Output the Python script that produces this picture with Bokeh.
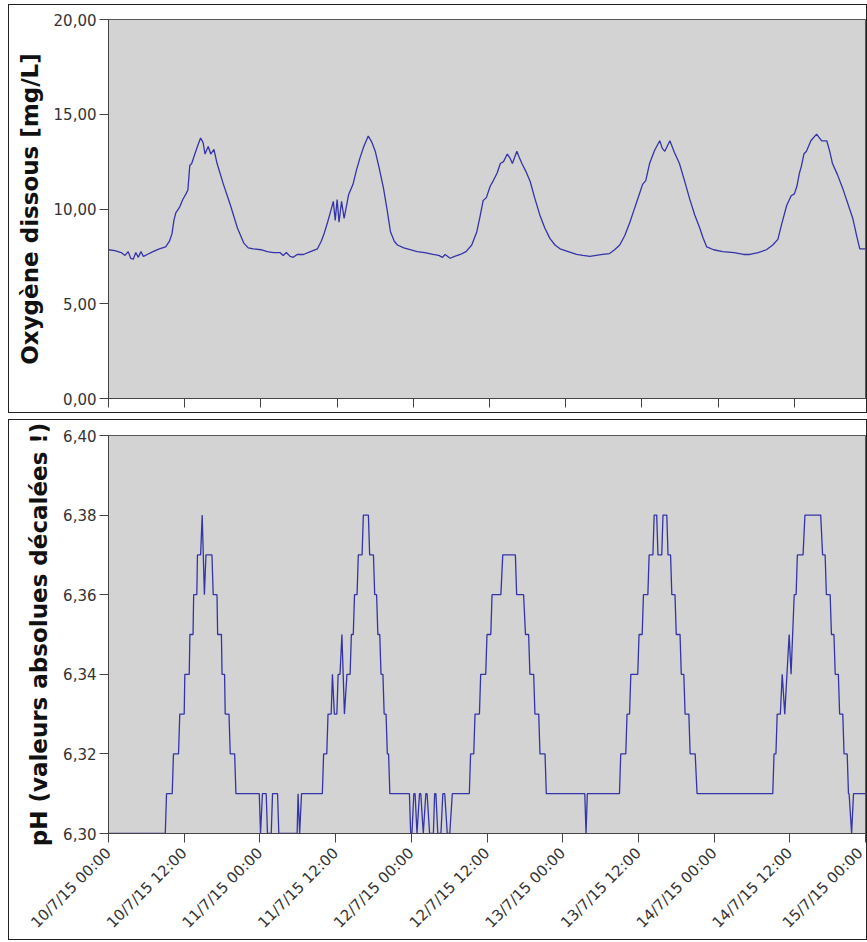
from math import pi
from bokeh.plotting import figure
from bokeh.layouts import column
from bokeh.models import FixedTicker, CustomJSTickFormatter, Range1d
from bokeh.embed import file_html
from bokeh.resources import INLINE

# ---- x axis (hours since 10/7/15 00:00) ----
tick_hours = [0, 12, 24, 36, 48, 60, 72, 84, 96, 108, 120]
tick_labels = ["10/7/15 00:00", "10/7/15 12:00", "11/7/15 00:00", "11/7/15 12:00",
               "12/7/15 00:00", "12/7/15 12:00", "13/7/15 00:00", "13/7/15 12:00",
               "14/7/15 00:00", "14/7/15 12:00", "15/7/15 00:00"]

# ---- dissolved oxygen [mg/L] ----
o2_hours = [0, 1.0, 2.0, 2.6, 3.1, 3.5, 3.9, 4.3, 4.7, 5.1, 5.5, 6.1, 7.0, 8.0, 9.0, 9.6, 10.0,
            10.3, 10.6, 11.2, 11.7, 12.2, 12.5, 12.8, 13.1, 13.6, 14.0, 14.5, 14.9, 15.2, 15.7,
            16.1, 16.6, 17.1, 18.1, 19.2, 20.3, 21.3, 22.0, 22.8, 24.0, 25.0, 26.0, 27.0, 27.5,
            28.0, 28.6, 29.1, 29.7, 30.7, 31.8, 32.9, 33.5, 33.9, 34.5, 35.0, 35.4, 35.7, 36.0,
            36.3, 36.7, 37.1, 37.5, 37.8, 38.5, 39.0, 39.6, 40.2, 40.9, 41.5, 42.0, 42.6, 43.3,
            43.9, 44.4, 45.0, 45.5, 46.5, 47.5, 48.6, 49.8, 51.1, 52.0, 52.6, 53.0, 53.8, 54.5,
            55.4, 56.3, 57.2, 58.0, 58.5, 59.0, 59.5, 60.1, 60.6, 61.2, 61.7, 62.2, 62.8, 63.2,
            63.6, 64.3, 64.7, 65.1, 65.7, 66.4, 67.1, 67.9, 68.7, 69.5, 70.3, 71.1, 72.4, 73.7,
            74.7, 75.8, 76.8, 77.8, 78.9, 79.7, 80.5, 81.3, 82.1, 82.7, 83.2, 83.7, 84.1, 84.6,
            85.2, 86.0, 86.8, 87.2, 87.6, 88.4, 89.1, 89.9, 90.7, 91.5, 92.3, 93.1, 93.6, 94.2,
            95.3, 96.7, 98.5, 100.0, 101.0, 102.3, 103.6, 104.6, 105.4, 106.0, 106.8, 107.5,
            108.0, 108.4, 108.8, 109.1, 109.5, 109.9, 110.6, 111.5, 112.3, 113.1, 113.6, 114.0,
            114.8, 115.6, 116.4, 117.2, 117.8, 118.3, 119.4, 120.0]
o2_values = [7.85, 7.8, 7.7, 7.55, 7.75, 7.4, 7.35, 7.7, 7.45, 7.75, 7.5, 7.6, 7.75, 7.9, 8.0, 8.3,
             8.7, 9.4, 9.8, 10.1, 10.5, 10.8, 11.0, 12.3, 12.4, 12.9, 13.3, 13.75, 13.5, 12.9,
             13.3, 12.9, 13.15, 12.4, 11.3, 10.2, 9.0, 8.2, 7.95, 7.9, 7.85, 7.75, 7.7, 7.7, 7.55,
             7.7, 7.5, 7.45, 7.6, 7.6, 7.75, 7.9, 8.3, 8.65, 9.3, 9.9, 10.4, 9.4, 10.5, 9.3, 10.4,
             9.5, 10.2, 10.75, 11.3, 12.0, 12.7, 13.3, 13.85, 13.5, 13.05, 12.2, 11.1, 9.9, 8.8,
             8.3, 8.1, 7.95, 7.85, 7.75, 7.7, 7.6, 7.55, 7.45, 7.6, 7.4, 7.5, 7.6, 7.75, 8.1, 8.8,
             9.6, 10.45, 10.6, 11.2, 11.5, 11.9, 12.4, 12.5, 12.9, 12.7, 12.4, 13.05, 12.7, 12.4,
             12.0, 11.45, 10.6, 9.7, 9.0, 8.45, 8.1, 7.9, 7.75, 7.6, 7.55, 7.5, 7.55, 7.6, 7.65,
             7.85, 8.1, 8.6, 9.3, 9.9, 10.4, 10.9, 11.3, 11.5, 12.4, 13.1, 13.6, 13.2, 13.05, 13.6,
             13.0, 12.4, 11.5, 10.55, 9.7, 9.0, 8.5, 8.0, 7.85, 7.75, 7.7, 7.6, 7.6, 7.7, 7.85, 8.1,
             8.4, 9.2, 10.2, 10.7, 10.8, 11.2, 11.9, 12.25, 12.9, 13.05, 13.6, 13.95, 13.6, 13.6,
             13.0, 12.4, 11.8, 11.1, 10.3, 9.5, 8.6, 7.9, 7.9, 7.9]

# ---- pH (levels held between start and end hour) ----
ph_start = [0, 9.2, 10.3, 11.3, 12.1, 12.9, 13.5, 14.1, 14.85, 15.2, 15.45, 16.6, 17.3, 18.0, 18.5,
            19.3, 20.2, 24.1, 24.4, 25.2, 26.0, 27.0, 30.05, 30.3, 30.6,
            34.1, 34.8, 35.5, 35.8, 36.4, 37.0, 37.4, 37.8, 38.5, 39.0, 39.6, 40.4, 41.4, 42.2,
            42.7, 43.2, 43.7, 44.2, 44.6, 47.9, 48.4, 48.9, 49.3, 49.9, 50.3, 50.9, 51.7, 52.2,
            53.0, 53.7, 54.5,
            57.4, 58.1, 59.0, 60.0, 60.8, 62.5, 64.7, 66.1, 66.8, 67.6, 68.4, 69.4, 75.7, 75.9,
            81.2, 82.2, 82.8, 84.1, 84.8, 85.7, 86.5, 87.1, 87.9, 88.7, 89.3, 90.0, 90.8, 91.4,
            92.2, 93.3,
            105.5, 106.0, 106.8, 107.2, 107.9, 108.2, 108.7, 109.2, 110.4, 113.2, 113.8, 114.6,
            115.2, 115.9, 116.6, 117.3, 117.8, 118.1]
ph_end = [9.0, 10.1, 11.1, 12.0, 12.8, 13.4, 14.0, 14.6, 14.85, 15.2, 16.4, 17.2, 17.9, 18.4, 19.1,
          20.0, 23.9, 24.1, 25.0, 25.8, 26.8, 29.9, 30.05, 30.3, 33.9,
          34.6, 35.3, 35.5, 36.2, 36.7, 37.0, 37.4, 38.3, 38.8, 39.4, 40.2, 41.2, 42.0, 42.5,
          43.0, 43.5, 44.0, 44.4, 47.7, 48.1, 48.6, 48.9, 49.5, 49.9, 50.5, 51.5, 51.9, 52.7,
          53.3, 54.1, 57.2,
          57.9, 58.8, 59.8, 60.6, 62.2, 64.5, 65.8, 66.6, 67.4, 68.2, 69.2, 75.5, 75.7, 81.0,
          82.0, 82.6, 83.9, 84.6, 85.5, 86.3, 86.9, 87.7, 88.5, 89.1, 89.8, 90.6, 91.2, 92.0,
          93.0, 105.3,
          105.8, 106.5, 106.8, 107.2, 107.9, 108.2, 109.0, 110.1, 112.9, 113.6, 114.4, 115.0,
          115.7, 116.4, 117.1, 117.4, 117.8, 120.0]
ph_level = [6.30, 6.31, 6.32, 6.33, 6.34, 6.35, 6.36, 6.37, 6.38, 6.36, 6.37, 6.36, 6.35, 6.34, 6.33,
            6.32, 6.31, 6.30, 6.31, 6.30, 6.31, 6.30, 6.31, 6.30, 6.31,
            6.32, 6.33, 6.34, 6.33, 6.34, 6.35, 6.33, 6.34, 6.35, 6.36, 6.37, 6.38, 6.37, 6.36,
            6.35, 6.34, 6.33, 6.32, 6.31, 6.30, 6.31, 6.30, 6.31, 6.30, 6.31, 6.30, 6.31, 6.30,
            6.31, 6.30, 6.31,
            6.32, 6.33, 6.34, 6.35, 6.36, 6.37, 6.36, 6.35, 6.34, 6.33, 6.32, 6.31, 6.30, 6.31,
            6.32, 6.33, 6.34, 6.35, 6.36, 6.37, 6.38, 6.37, 6.38, 6.37, 6.36, 6.35, 6.34, 6.33,
            6.32, 6.31,
            6.32, 6.33, 6.34, 6.33, 6.35, 6.34, 6.36, 6.37, 6.38, 6.37, 6.36, 6.35,
            6.34, 6.33, 6.32, 6.31, 6.30, 6.31]

o2_ticks = [0, 5, 10, 15, 20]
ph_ticks = [6.30, 6.32, 6.34, 6.36, 6.38, 6.40]

ph_hours, ph_values = [], []
for a, b, v in zip(ph_start, ph_end, ph_level):
    ph_hours.append(a)
    ph_values.append(v)
    if b != a:
        ph_hours.append(b)
        ph_values.append(v)

LINE = "#3434a8"
BG = "#d3d3d3"
FONT = "DejaVu Sans"
comma = CustomJSTickFormatter(code="return tick.toFixed(2).replace('.', ',');")


def style(p, ylabel, yticks):
    p.background_fill_color = BG
    p.border_fill_color = "white"
    p.outline_line_color = "#555555"
    p.outline_line_width = 1
    p.grid.visible = False
    p.styles = {"border": "1px solid #222222", "box-sizing": "border-box"}
    for ax in (p.xaxis[0], p.yaxis[0]):
        ax.axis_line_color = "#444444"
        ax.major_tick_line_color = "#444444"
        ax.minor_tick_line_color = None
        ax.major_tick_in = 0
        ax.major_tick_out = 9
        ax.major_label_text_font = FONT
        ax.major_label_text_font_size = "15px"
        ax.major_label_text_color = "#333333"
    p.xaxis.ticker = FixedTicker(ticks=tick_hours)
    p.yaxis.ticker = FixedTicker(ticks=yticks)
    p.yaxis.formatter = comma
    p.yaxis.major_label_standoff = 3
    p.yaxis.axis_label = ylabel
    p.yaxis.axis_label_text_font = FONT
    p.yaxis.axis_label_text_font_size = "23px"
    p.yaxis.axis_label_text_font_style = "bold"
    p.yaxis.axis_label_text_color = "#111111"
    p.yaxis.axis_label_standoff = 8


p1 = figure(width=859, height=409, output_backend="svg", toolbar_location=None,
            x_range=Range1d(0, 119.2), y_range=Range1d(0, 20),
            min_border_left=99, min_border_right=0, min_border_top=14, min_border_bottom=16)
p1.margin = (4, 0, 0, 8)
style(p1, "Oxygène dissous [mg/L]", o2_ticks)
p1.xaxis.major_label_overrides = {h: "" for h in tick_hours}
p1.xaxis.major_label_standoff = 0
p1.line(o2_hours, o2_values, line_color=LINE, line_width=1.3)

p2 = figure(width=859, height=521, output_backend="svg", toolbar_location=None,
            x_range=Range1d(0, 120), y_range=Range1d(6.30, 6.40),
            min_border_left=91, min_border_right=3, min_border_top=15, min_border_bottom=99)
p2.margin = (6, 0, 0, 8)
style(p2, "pH (valeurs absolues décalées !)", ph_ticks)
p2.xaxis.major_label_overrides = {h: lab for h, lab in zip(tick_hours, tick_labels)}
p2.xaxis.major_label_orientation = pi / 4
p2.xaxis.major_label_standoff = 8
p2.line(ph_hours, ph_values, line_color=LINE, line_width=1.3)

layout = column(p1, p2, spacing=0)
open("out.html", "w").write(file_html(layout, INLINE))
